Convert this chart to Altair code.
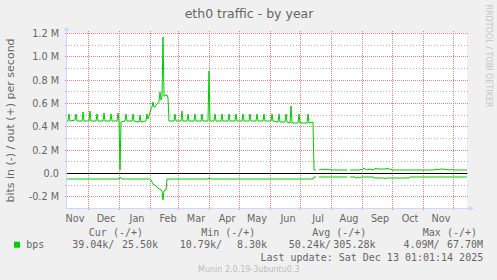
import altair as alt
import pandas as pd

# ---------------- data (bits/s in millions; day 0 = left edge of the 400-day window) ----------------
out_a = [(0,0.45),(1,0.45),(2,0.51),(3,0.45),(8,0.455),(9,0.51),(10,0.45),(15,0.45),(16,0.52),(17,0.45),
         (22,0.45),(23,0.535),(24,0.445),(29,0.45),(30,0.51),(31,0.45),(36,0.45),(37,0.515),(38,0.45),
         (43,0.45),(44,0.51),(45,0.45),(50,0.45),(51,0.515),(52,0.45),(53,0.022),(54,0.44),(58,0.45),
         (59,0.51),(60,0.45),(65,0.45),(66,0.51),(67,0.445),(71,0.44),(72,0.435),(73,0.50),(74,0.44),
         (79,0.45),(80,0.51),(81,0.46),(82,0.49),(83,0.52),(84,0.55),(85,0.57),(86,0.61),(87,0.57),
         (88,0.57),(89,0.58),(90,0.59),(91,0.60),(92,0.62),(93,0.69),(94,0.63),(95,0.65),(96,1.167),
         (97,0.66),(98,0.66),(99,0.665),(100,0.665),(101,0.64),(102,0.45),(107,0.45),(108,0.51),(109,0.45),
         (114,0.45),(115,0.53),(116,0.45),(120,0.45),(121,0.51),(122,0.45),(127,0.45),(128,0.51),(129,0.45),
         (134,0.45),(135,0.51),(136,0.45),(141,0.45),(142,0.875),(143,0.45),(147,0.45),(148,0.51),(149,0.45),
         (154,0.45),(155,0.51),(156,0.45),(161,0.45),(162,0.51),(163,0.45),(168,0.45),(169,0.51),(170,0.45),
         (175,0.45),(176,0.51),(177,0.45),(182,0.45),(183,0.51),(184,0.45),(189,0.45),(190,0.51),(191,0.45),
         (196,0.45),(197,0.51),(198,0.45),(204,0.45),(205,0.51),(206,0.445),(211,0.44),(212,0.51),(213,0.44),
         (218,0.44),(219,0.51),(220,0.435),(223,0.43),(224,0.577),(225,0.43),(231,0.43),(232,0.51),(233,0.43),
         (240,0.43),(241,0.51),(242,0.43),(246,0.44),(247,0.022),(249,0.022)]
out_b = [(252,0.028),(254,0.033),(255,0.028),(257,0.034),(258,0.028),(260,0.034),(261,0.028),(263,0.034),
         (264,0.028),(266,0.028),(268,0.026),(271,0.026),(273,0.03),(276,0.025),(278,0.028),(280,0.026)]
out_c = [(283,0.025),(287,0.026),(290,0.025),(293,0.03),(294,0.036),(295,0.03),(296,0.034),(297,0.045),
         (298,0.033),(300,0.03),(303,0.032),(306,0.03),(308,0.035),(309,0.045),(310,0.036),(313,0.036),
         (315,0.034),(317,0.038),(319,0.036),(320,0.045),(321,0.036),(323,0.032),(326,0.03),(330,0.03),
         (333,0.027),(340,0.025),(345,0.026),(350,0.025),(356,0.03),(365,0.03),(375,0.031),(384,0.03),
         (385,0.036),(386,0.03),(395,0.03),(400,0.03)]
in_a = [(0,-0.05),(52,-0.05),(53,-0.034),(54,-0.046),(55,-0.05),(83,-0.05),(84,-0.06),(85,-0.075),
        (86,-0.09),(87,-0.1),(88,-0.106),(89,-0.115),(90,-0.12),(91,-0.13),(92,-0.135),(93,-0.14),
        (94,-0.145),(95,-0.157),(96,-0.23),(97,-0.15),(98,-0.145),(99,-0.143),(100,-0.05),(141,-0.05),
        (142,-0.042),(143,-0.05),(246,-0.05),(247,-0.036),(249,-0.034)]
in_b = [(252,-0.034),(280,-0.034)]
in_c = [(283,-0.034),(288,-0.034),(289,-0.043),(290,-0.04),(291,-0.036),(293,-0.043),(294,-0.037),
        (296,-0.037),(306,-0.037),(307,-0.043),(317,-0.043),(318,-0.05),(319,-0.043),(342,-0.043),
        (343,-0.03),(354,-0.03),(355,-0.037),(400,-0.037)]

month_start_days = [21, 52, 83, 111, 142, 172, 203, 233, 264, 295, 325, 356, 386]
month_label_days = [8, 39, 70, 101, 129, 160, 190, 221, 251, 282, 313, 343, 374]
month_labels = ["Nov", "Dec", "Jan", "Feb", "Mar", "Apr", "May", "Jun", "Jul", "Aug", "Sep", "Oct", "Nov"]
major_ticks = [-0.2, 0.0, 0.2, 0.4, 0.6, 0.8, 1.0, 1.2]
major_labels = ["-0.2 M", "0.0", "0.2 M", "0.4 M", "0.6 M", "0.8 M", "1.0 M", "1.2 M"]
minor_ticks = [-0.1, 0.1, 0.3, 0.5, 0.7, 0.9, 1.1]

title_text = "eth0 traffic - by year"
y_title = "bits in (-) / out (+) per second"
legend_name = "bps"
legend_headers = ["Cur (-/+)", "Min (-/+)", "Avg (-/+)", "Max (-/+)"]
legend_in = ["39.04k/", "10.79k/", "50.24k/", "4.09M/"]
legend_out = ["25.50k", "8.30k", "305.28k", "67.70M"]
last_update = "Last update: Sat Dec 13 01:01:14 2025"
watermark = "Munin 2.0.19-3ubuntu0.3"
side_text = "RRDTOOL / TOBI OETIKER"

# ---------------- build ----------------
rows = []
for name, seg in [("out_a", out_a), ("out_b", out_b), ("out_c", out_c),
                  ("in_a", in_a), ("in_b", in_b), ("in_c", in_c)]:
    for d, v in seg:
        rows.append({"seg": name, "day": d, "val": v})
lines_df = pd.DataFrame(rows)

GREEN = "#00cc00"
FONT = "#666666"
AXISC = "#CFD6F8"
SANS = "DejaVu Sans"
MONO = "DejaVu Sans Mono"
MAJOR = "#e88080"
MINOR = "#b4b4b4"

xs = alt.Scale(domain=[0, 400], nice=False, zero=False, round=True)
ys = alt.Scale(domain=[-0.3, 1.2], nice=False, zero=False, round=True)

major = alt.Chart(pd.DataFrame({"v": major_ticks})).mark_rule(
    color=MAJOR, strokeDash=[1, 1], yOffset=0.5
).encode(y=alt.Y("v:Q", scale=ys, axis=None), x=alt.value(-2), x2=alt.value(402))

minor = alt.Chart(pd.DataFrame({"v": minor_ticks})).mark_rule(
    color=MINOR, strokeDash=[1, 2], yOffset=0.5
).encode(y=alt.Y("v:Q", scale=ys, axis=None), x=alt.value(-2), x2=alt.value(402))

vgrid = alt.Chart(pd.DataFrame({"d": month_start_days})).mark_rule(
    color=MAJOR, strokeDash=[1, 1], xOffset=0.5
).encode(x=alt.X("d:Q", scale=xs, axis=None), y=alt.value(-2), y2=alt.value(177))

ylabels = alt.Chart(pd.DataFrame({"v": major_ticks, "lab": major_labels})).mark_text(
    font=SANS, fontSize=9.7, color=FONT, align="right", baseline="middle", yOffset=0.5
).encode(y=alt.Y("v:Q", scale=ys, axis=None), x=alt.value(-8), text="lab:N")

data_lines = alt.Chart(lines_df).mark_line(color=GREEN, strokeWidth=1).encode(
    x=alt.X("day:Q", scale=xs, axis=None),
    y=alt.Y("val:Q", scale=ys, axis=None),
    detail="seg:N")

zero = alt.Chart(pd.DataFrame({"v": [0.0]})).mark_rule(color="black", yOffset=0.5).encode(
    y=alt.Y("v:Q", scale=ys, axis=None), x=alt.value(0), x2=alt.value(400))

one = pd.DataFrame({"t": [""]})
left_axis = alt.Chart(one).mark_rule(color=AXISC).encode(
    x=alt.value(-0.5), y=alt.value(-3), y2=alt.value(176))
bottom_axis = alt.Chart(one).mark_rule(color=AXISC).encode(
    x=alt.value(-1), x2=alt.value(403), y=alt.value(175.5))
arrow_up = alt.Chart(one).mark_point(shape="triangle-up", filled=True, color=AXISC, opacity=1, size=30).encode(
    x=alt.value(-0.5), y=alt.value(-4.5))
arrow_right = alt.Chart(one).mark_point(shape="triangle-right", filled=True, color=AXISC, opacity=1, size=30).encode(
    x=alt.value(404.5), y=alt.value(175.5))

xlabels = alt.Chart(pd.DataFrame({"d": month_label_days, "m": month_labels})).mark_text(
    font=SANS, fontSize=9.7, color=FONT, align="center", baseline="alphabetic"
).encode(x=alt.X("d:Q", scale=xs, axis=None), y=alt.value(188.7), text="m:N")


def txt(s, x, y, align="left", font=MONO, size=10, color=FONT, angle=0, baseline="alphabetic"):
    props = dict(font=font, fontSize=size, color=color, align=align, baseline=baseline)
    if angle:
        props["angle"] = angle
    return alt.Chart(pd.DataFrame({"t": [s]})).mark_text(**props).encode(
        text="t:N", x=alt.value(x), y=alt.value(y))


texts = [
    txt(title_text, 182, -15, align="center", font=SANS, size=12.5),
    txt(y_title, -56, 87.5, align="center", font=SANS, size=11, angle=270, baseline="middle"),
    txt(side_text, 421, 23, align="center", font=SANS, size=8, color="#c4c4c4", angle=90, baseline="middle"),
    txt(legend_name, -40.8, 215.3),
    txt(last_update, 416.2, 227.7, align="right"),
    txt(watermark, 181.8, 238.7, align="center", font=SANS, size=8, color="#bdbdbd"),
]
header_x = [21.8, 134.2, 245.2, 355.8]
in_x = [5.2, 112.8, 221.8, 336.5]
out_right = [91.0, 200.0, 308.5, 416.0]
for i in range(4):
    texts.append(txt(legend_headers[i], header_x[i], 203))
    texts.append(txt(legend_in[i], in_x[i], 215.3))
    texts.append(txt(legend_out[i], out_right[i], 215.3, align="right"))

square = alt.Chart(one).mark_square(size=36, filled=True, color=GREEN, opacity=1).encode(
    x=alt.value(-50), y=alt.value(211.7))

chart = alt.layer(
    major, minor, vgrid, ylabels, data_lines, zero, left_axis, bottom_axis, arrow_up, arrow_right,
    xlabels, square, *texts
).properties(
    width=400, height=175, autosize="none",
    padding={"left": 67, "top": 33, "right": 30, "bottom": 72},
    background="#f0f0f0",
).configure_view(fill="white", strokeWidth=0)

chart.save("out.html", embed_options={"renderer": "svg", "actions": False})
